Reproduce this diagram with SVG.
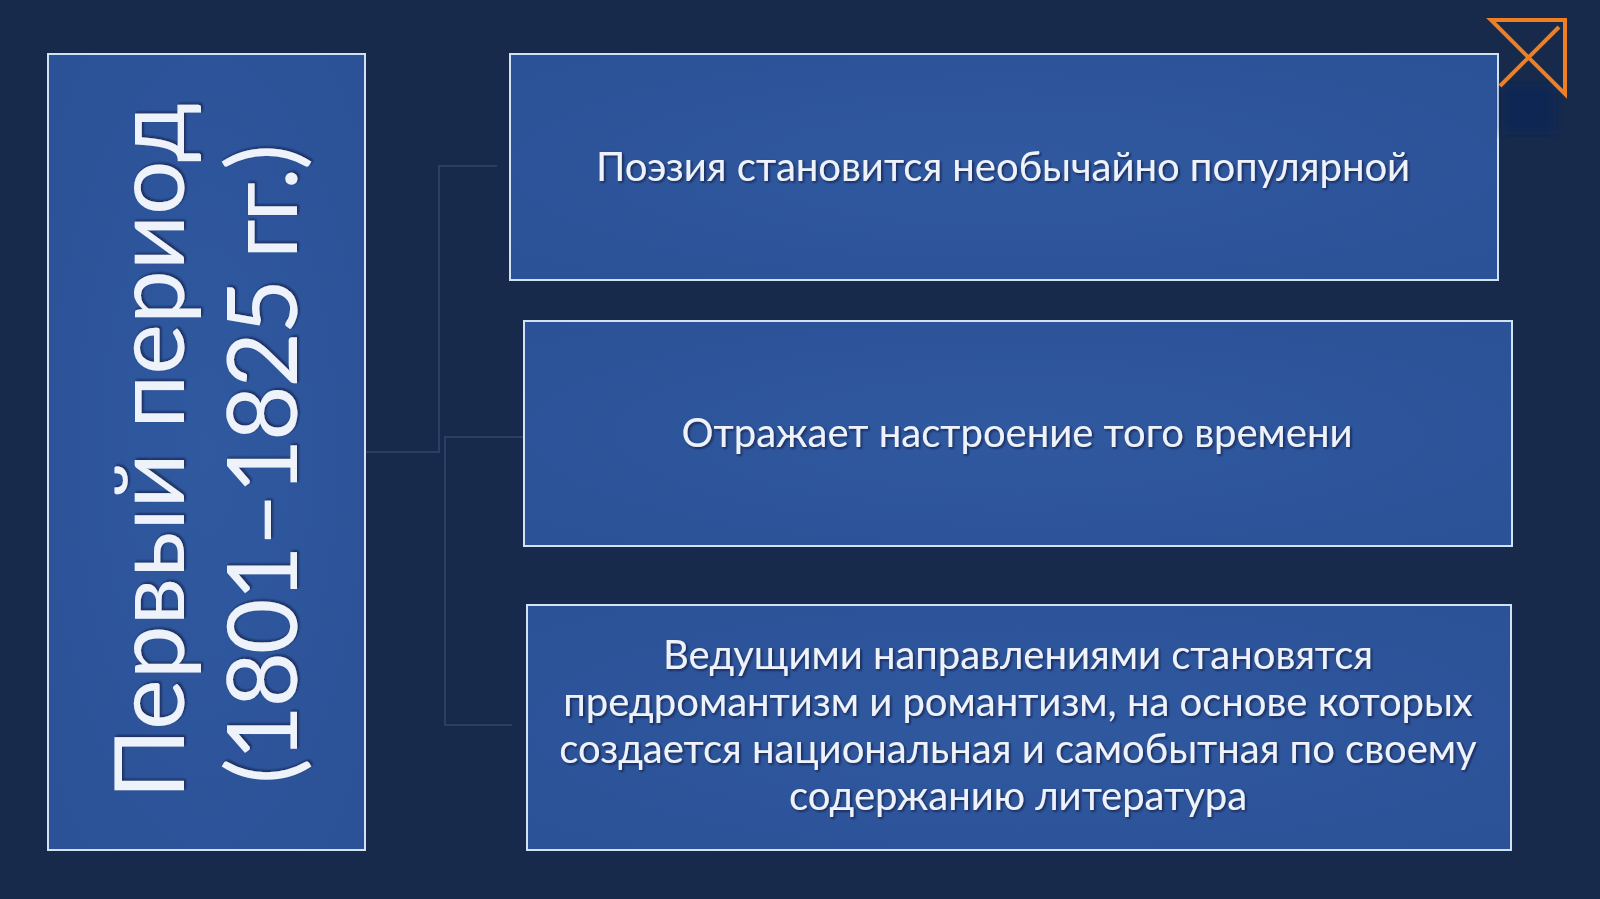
<svg xmlns="http://www.w3.org/2000/svg" width="1600" height="899" viewBox="0 0 1600 899">
<defs>
<radialGradient id="bx" cx="50%" cy="50%" r="70%">
<stop offset="0" stop-color="#3059a0"/>
<stop offset="1" stop-color="#2b5196"/>
</radialGradient>
<filter id="sh" x="-5%" y="-5%" width="110%" height="110%">
<feDropShadow dx="1.5" dy="1.5" stdDeviation="1" flood-color="#0a1530" flood-opacity="0.7"/>
</filter>
<filter id="bl"><feGaussianBlur stdDeviation="4"/></filter>
</defs>
<style>
.box{fill:url(#bx);stroke:#d3e2f3;stroke-width:2}
.t{font-family:Lato,"Liberation Sans",sans-serif;fill:#eef3fb;font-size:40px;text-anchor:middle;filter:url(#sh)}
.big{font-family:Lato,"Liberation Sans",sans-serif;fill:#eef3fb;font-size:96px;text-anchor:middle;filter:url(#sh)}
.c{fill:none;stroke:#2a3e66;stroke-width:2}
</style>
<rect width="1600" height="899" fill="#182a4b"/>
<g id="connectors">
<polyline class="c" points="497,166 439,166 439,452 365,452"/>
<polyline class="c" points="523,437 445,437 445,725 512,725"/>
</g>
<g id="period">
<rect class="box" x="48" y="54" width="317" height="796"/>
<text class="big" transform="translate(184,451) rotate(-90)">Первый период</text>
<text class="big" transform="translate(297,464) rotate(-90)" textLength="640" lengthAdjust="spacing">(1801–1825 гг.)</text>
</g>
<g id="node1">
<rect class="box" x="510" y="54" width="988" height="226"/>
<text class="t" x="1003" y="181">Поэзия становится необычайно популярной</text>
</g>
<g id="node2">
<rect class="box" x="524" y="321" width="988" height="225"/>
<text class="t" x="1017" y="447">Отражает настроение того времени</text>
</g>
<g id="node3">
<rect class="box" x="527" y="605" width="984" height="245"/>
<text class="t" x="1018" y="669">Ведущими направлениями становятся</text>
<text class="t" x="1018" y="716">предромантизм и романтизм, на основе которых</text>
<text class="t" x="1018" y="763">создается национальная и самобытная по своему</text>
<text class="t" x="1018" y="810">содержанию литература</text>
</g>
<g id="icon">
<rect x="1502" y="84" width="54" height="50" fill="#0f2652" filter="url(#bl)"/>
<path d="M1491,20 L1565,20 L1565,94 Z M1559,27 L1500,86" fill="none" stroke="#f07f22" stroke-width="4" stroke-linejoin="miter"/>
</g>
</svg>
